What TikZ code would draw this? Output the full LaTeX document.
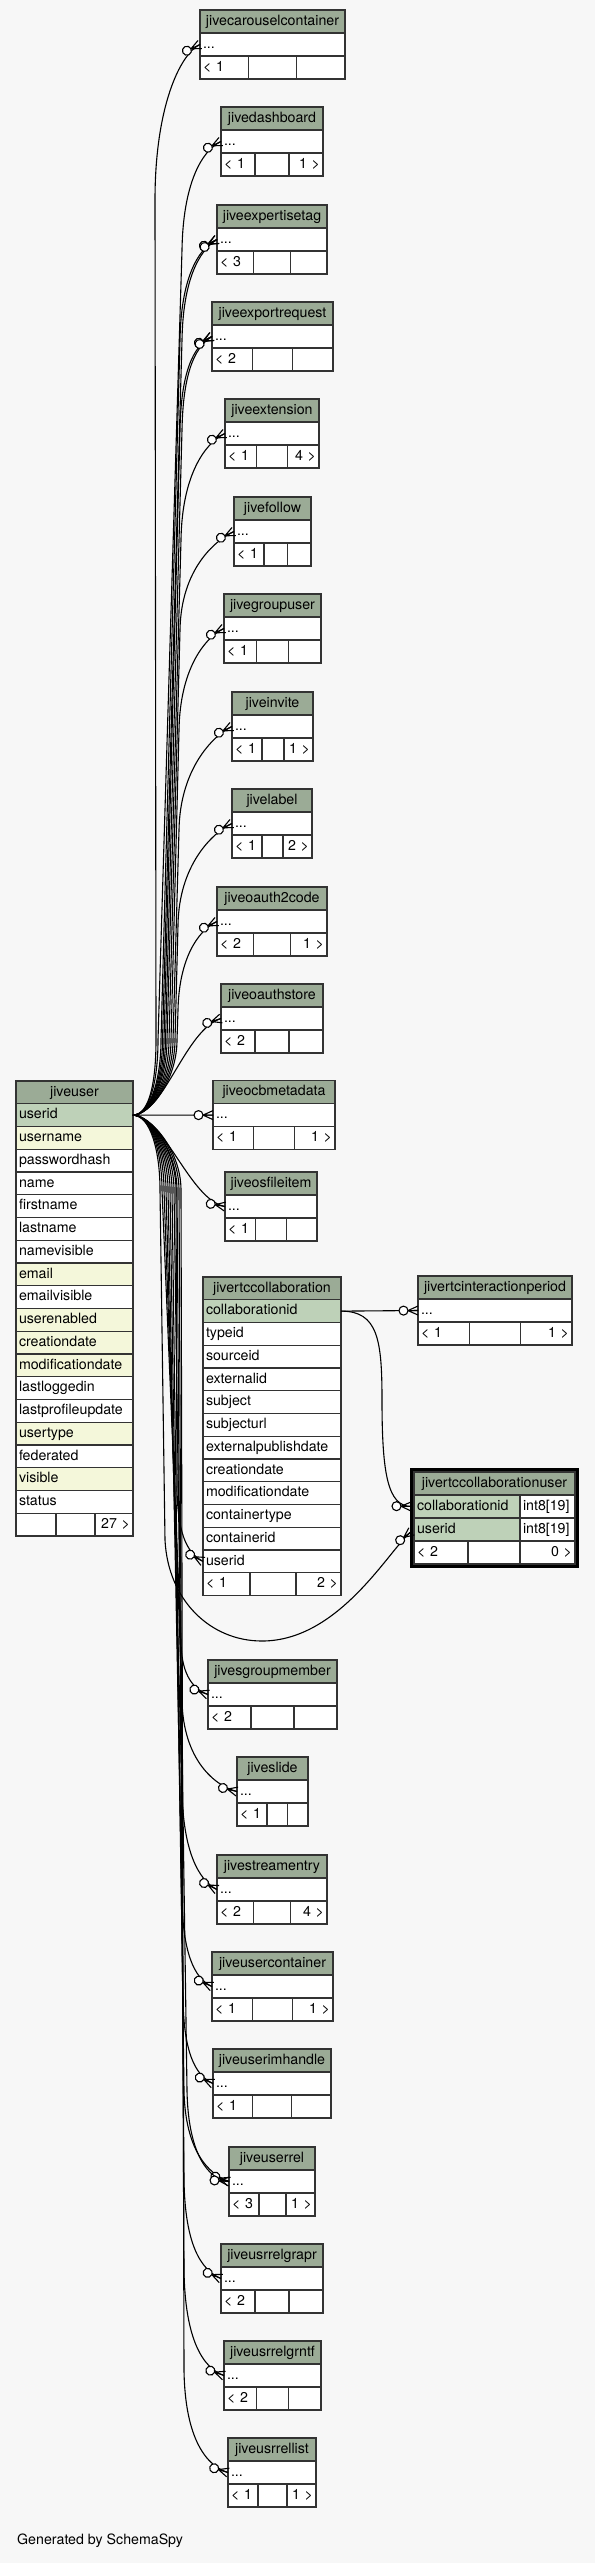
\documentclass[tikz,border=0pt]{standalone}
\usepackage{fontspec}
\setmainfont{TeX Gyre Heros}
\usepackage{xcolor}
\usetikzlibrary{positioning,arrows.meta}
\definecolor{fondo}{HTML}{F7F7F7}
\definecolor{cabeza}{HTML}{9BAB96}
\definecolor{clave}{HTML}{BED1B8}
\definecolor{indice}{HTML}{F4F7DA}
\definecolor{borde}{HTML}{333333}

% zero-or-many end: open circle + crow's foot
\pgfdeclarearrow{
  name = crowodot,
  setup code = {
    \pgfarrowssettipend{0pt}
    \pgfarrowssetlineend{0pt}
    \pgfarrowssetbackend{-19pt}
    \pgfarrowshullpoint{0pt}{5pt}
    \pgfarrowshullpoint{0pt}{-5pt}
    \pgfarrowshullpoint{-19pt}{0pt}
  },
  drawing code = {
    \pgfsetdash{}{0pt}
    \pgfpathmoveto{\pgfpoint{-10pt}{0pt}}
    \pgfpathlineto{\pgfpoint{0pt}{4.5pt}}
    \pgfpathmoveto{\pgfpoint{-10pt}{0pt}}
    \pgfpathlineto{\pgfpoint{0pt}{0pt}}
    \pgfpathmoveto{\pgfpoint{-10pt}{0pt}}
    \pgfpathlineto{\pgfpoint{0pt}{-4.5pt}}
    \pgfusepathqstroke
    \pgfpathcircle{\pgfpoint{-14.5pt}{0pt}}{4.5pt}
    \pgfsetfillcolor{white}
    \pgfusepathqfillstroke
  }
}

% table with one elided row: name, title, x, y, width, left foot, right foot
\newcommand{\smalltab}[7]{%
  \pgfmathsetmacro{\tabtw}{#5-6}%
  \pgfmathsetmacro{\fa}{max(#5/3,30)}%
  \def\righttxt{#7}%
  \ifx\righttxt\empty
    \pgfmathsetmacro{\fc}{(#5-\fa)/2}%
  \else
    \pgfmathsetmacro{\fc}{max((#5-\fa)/2,29)}%
  \fi
  \pgfmathsetmacro{\fb}{#5-\fa-\fc}%
  \pgfmathsetmacro{\fta}{\fa-6}%
  \pgfmathsetmacro{\ftb}{\fb-6}%
  \pgfmathsetmacro{\ftc}{\fc-6}%
  \node[hdr, minimum width=#5pt] (#1) at (#3,#4) {#2};
  \node[fld, colw={#5}{\tabtw}, below=0pt of #1] (#1-r) {...};
  \node[fld, colw={\fa}{\fta}] (#1-f1) at (#1-r.south west) {\mbox{#6}};
  \node[fld, colw={\fb}{\ftb}] (#1-f2) at (#1-f1.north east) {};
  \node[fld, num, colw={\fc}{\ftc}] (#1-f3) at (#1-f2.north east) {\mbox{#7}};
}

\begin{document}
\begin{tikzpicture}[
  x=1pt, y=-1pt,
  font=\fontsize{14.2}{17}\selectfont,
  cell/.style={draw=borde, line width=1.1pt, inner xsep=3pt, inner ysep=0pt, outer sep=0pt,
    minimum height=23pt, text height=10.5pt, text depth=3pt, anchor=north west},
  hdr/.style={cell, fill=cabeza, align=center},
  fld/.style={cell, fill=white, align=left},
  pk/.style={fill=clave},
  idx/.style={fill=indice},
  num/.style={align=right},
  big/.style={minimum height=22.75pt},
  colw/.style 2 args={minimum width=#1pt, text width=#2pt},
  rel/.style={-crowodot, line width=1.1pt, black}
]
  \fill[fondo] (0,0) rectangle (595,2563);
  \useasboundingbox (0,0) rectangle (595,2563);

  % jiveuser
  \node[hdr, big, minimum width=117pt] (ju) at (16,1081) {jiveuser};
  \node[fld, pk, big, colw={117}{111}, below=0pt of ju] (ju-uid) {userid};
  \node[fld, idx, big, colw={117}{111}, below=0pt of ju-uid] (ju-un) {username};
  \node[fld, big, colw={117}{111}, below=0pt of ju-un] (ju-ph) {passwordhash};
  \node[fld, big, colw={117}{111}, below=0pt of ju-ph] (ju-nm) {name};
  \node[fld, big, colw={117}{111}, below=0pt of ju-nm] (ju-fn) {firstname};
  \node[fld, big, colw={117}{111}, below=0pt of ju-fn] (ju-ln) {lastname};
  \node[fld, big, colw={117}{111}, below=0pt of ju-ln] (ju-nv) {namevisible};
  \node[fld, idx, big, colw={117}{111}, below=0pt of ju-nv] (ju-em) {email};
  \node[fld, big, colw={117}{111}, below=0pt of ju-em] (ju-ev) {emailvisible};
  \node[fld, idx, big, colw={117}{111}, below=0pt of ju-ev] (ju-ue) {userenabled};
  \node[fld, idx, big, colw={117}{111}, below=0pt of ju-ue] (ju-cd) {creationdate};
  \node[fld, idx, big, colw={117}{111}, below=0pt of ju-cd] (ju-md) {modificationdate};
  \node[fld, big, colw={117}{111}, below=0pt of ju-md] (ju-ll) {lastloggedin};
  \node[fld, big, colw={117}{111}, below=0pt of ju-ll] (ju-lp) {lastprofileupdate};
  \node[fld, idx, big, colw={117}{111}, below=0pt of ju-lp] (ju-ut) {usertype};
  \node[fld, big, colw={117}{111}, below=0pt of ju-ut] (ju-fd) {federated};
  \node[fld, idx, big, colw={117}{111}, below=0pt of ju-fd] (ju-vi) {visible};
  \node[fld, big, colw={117}{111}, below=0pt of ju-vi] (ju-st) {status};
  \node[fld, big, colw={40}{34}] (ju-f1) at (ju-st.south west) {};
  \node[fld, big, colw={39}{33}] (ju-f2) at (ju-f1.north east) {};
  \node[fld, num, big, colw={38}{32}] (ju-f3) at (ju-f2.north east) {27 >};

  % jivertccollaboration
  \node[hdr, big, minimum width=138pt] (rtc) at (203,1277) {jivertccollaboration};
  \node[fld, pk, big, colw={138}{132}, below=0pt of rtc] (rtc-cid) {collaborationid};
  \node[fld, big, colw={138}{132}, below=0pt of rtc-cid] (rtc-ty) {typeid};
  \node[fld, big, colw={138}{132}, below=0pt of rtc-ty] (rtc-so) {sourceid};
  \node[fld, big, colw={138}{132}, below=0pt of rtc-so] (rtc-ex) {externalid};
  \node[fld, big, colw={138}{132}, below=0pt of rtc-ex] (rtc-sj) {subject};
  \node[fld, big, colw={138}{132}, below=0pt of rtc-sj] (rtc-su) {subjecturl};
  \node[fld, big, colw={138}{132}, below=0pt of rtc-su] (rtc-ep) {externalpublishdate};
  \node[fld, big, colw={138}{132}, below=0pt of rtc-ep] (rtc-cd) {creationdate};
  \node[fld, big, colw={138}{132}, below=0pt of rtc-cd] (rtc-md) {modificationdate};
  \node[fld, big, colw={138}{132}, below=0pt of rtc-md] (rtc-ct) {containertype};
  \node[fld, big, colw={138}{132}, below=0pt of rtc-ct] (rtc-ci) {containerid};
  \node[fld, big, colw={138}{132}, below=0pt of rtc-ci] (rtc-uid) {userid};
  \node[fld, big, colw={47}{41}] (rtc-f1) at (rtc-uid.south west) {< 1};
  \node[fld, big, colw={46}{40}] (rtc-f2) at (rtc-f1.north east) {};
  \node[fld, num, big, colw={45}{39}] (rtc-f3) at (rtc-f2.north east) {2 >};

  % jivertccollaborationuser
  \draw[line width=2.2pt, black] (411.5,1469.5) rectangle (577.5,1566.5);
  \node[hdr, minimum width=161pt] (rcu) at (414,1472) {jivertccollaborationuser};
  \node[fld, pk, colw={106}{100}] (rcu-cid) at (rcu.south west) {collaborationid};
  \node[fld, colw={55}{49}] (rcu-cidt) at (rcu-cid.north east) {int8[19]};
  \node[fld, pk, colw={106}{100}] (rcu-uid) at (rcu-cid.south west) {userid};
  \node[fld, colw={55}{49}] (rcu-uidt) at (rcu-uid.north east) {int8[19]};
  \node[fld, colw={54}{48}] (rcu-f1) at (rcu-uid.south west) {< 2};
  \node[fld, colw={52}{46}] (rcu-f2) at (rcu-f1.north east) {};
  \node[fld, num, colw={55}{49}] (rcu-f3) at (rcu-f2.north east) {0 >};

  \smalltab{car}{jivecarouselcontainer}{200}{10}{145}{< 1}{}
  \smalltab{dash}{jivedashboard}{221}{107}{102}{< 1}{1 >}
  \smalltab{exp}{jiveexpertisetag}{217}{205}{110}{< 3}{}
  \smalltab{expr}{jiveexportrequest}{212}{302}{121}{< 2}{}
  \smalltab{ext}{jiveextension}{225}{399}{94}{< 1}{4 >}
  \smalltab{fol}{jivefollow}{234}{497}{77}{< 1}{}
  \smalltab{grp}{jivegroupuser}{224}{594}{97}{< 1}{}
  \smalltab{inv}{jiveinvite}{232}{692}{81}{< 1}{1 >}
  \smalltab{lab}{jivelabel}{232}{789}{80}{< 1}{2 >}
  \smalltab{oa2}{jiveoauth2code}{217}{887}{110}{< 2}{1 >}
  \smalltab{oas}{jiveoauthstore}{221}{984}{102}{< 2}{}
  \smalltab{ocb}{jiveocbmetadata}{213}{1080.6}{122}{< 1}{1 >}
  \smalltab{osf}{jiveosfileitem}{225}{1172}{92}{< 1}{}
  \smalltab{rip}{jivertcinteractionperiod}{418}{1276}{154}{< 1}{1 >}
  \smalltab{sgm}{jivesgroupmember}{208}{1660}{129}{< 2}{}
  \smalltab{sli}{jiveslide}{237}{1757}{71}{< 1}{}
  \smalltab{str}{jivestreamentry}{217}{1855}{110}{< 2}{4 >}
  \smalltab{ucn}{jiveusercontainer}{212}{1952}{121}{< 1}{1 >}
  \smalltab{uim}{jiveuserimhandle}{213}{2049}{118}{< 1}{}
  \smalltab{urel}{jiveuserrel}{229}{2147}{86}{< 3}{1 >}
  \smalltab{ugp}{jiveusrrelgrapr}{221}{2244}{102}{< 2}{}
  \smalltab{ugn}{jiveusrrelgrntf}{224}{2341}{97}{< 2}{}
  \smalltab{ull}{jiveusrrellist}{228}{2438}{88}{< 1}{1 >}

  % jiveuser.userid upwards
  \draw[rel] (ju-uid.east) .. controls (150,1115) and (156,1080) .. (156,1040) -- (155,200) .. controls (155,107) and (180,54) .. (car-r.west);
  \draw[rel] (ju-uid.east) .. controls (150,1115) and (158,1080) .. (158,1040) -- (182,250) .. controls (183,185) and (201,151) .. (dash-r.west);
  \draw[rel] (ju-uid.east) .. controls (150,1115) and (161,1080) .. (161,1040) -- (180,340) .. controls (181,280) and (197,249) .. (exp-r.west);
  \draw[rel] (ju-uid.east) .. controls (150,1115) and (162.5,1080) .. (162.5,1040) -- (182,340) .. controls (183,282) and (198,251) .. (exp-r.west);
  \draw[rel] (ju-uid.east) .. controls (150,1115) and (164,1080) .. (164,1040) -- (180,430) .. controls (181,375) and (192,346) .. (expr-r.west);
  \draw[rel] (ju-uid.east) .. controls (150,1115) and (165.5,1080) .. (165.5,1040) -- (182,430) .. controls (183,377) and (193,348) .. (expr-r.west);
  \draw[rel] (ju-uid.east) .. controls (150,1115) and (167,1080) .. (167,1040) -- (181,540) .. controls (182,475) and (205,443) .. (ext-r.west);
  \draw[rel] (ju-uid.east) .. controls (150,1115) and (169,1080) .. (169,1040) -- (180,630) .. controls (181,570) and (214,541) .. (fol-r.west);
  \draw[rel] (ju-uid.east) .. controls (150,1115) and (171,1080) .. (171,1040) -- (179,730) .. controls (180,670) and (204,638) .. (grp-r.west);
  \draw[rel] (ju-uid.east) .. controls (150,1115) and (173,1080) .. (173,1040) -- (179,830) .. controls (180,770) and (212,736) .. (inv-r.west);
  \draw[rel] (ju-uid.east) .. controls (150,1115) and (175,1080) .. (175,1040) -- (178,925) .. controls (179,865) and (212,833) .. (lab-r.west);
  \draw[rel] (ju-uid.east) .. controls (150,1115) and (177,1080) .. (177,1040) -- (178,1010) .. controls (179,960) and (197,931) .. (oa2-r.west);
  \draw[rel] (ju-uid.east) .. controls (165,1113) and (185,1030) .. (oas-r.west);
  \draw[rel] (ju-uid.east) -- (ocb-r.west);
  \draw[rel] (ju-uid.east) .. controls (165,1117) and (190,1200) .. (osf-r.west);

  % jiveuser.userid downwards
  \draw[rel] (ju-uid.east) .. controls (150,1115) and (176,1150) .. (176,1190) -- (177,1490) .. controls (178,1530) and (185,1552) .. (rtc-uid.west);
  \draw[rel, shorten >=3pt] (ju-uid.east) .. controls (150,1115) and (160,1150) .. (160,1190) -- (165,1540) .. controls (168,1600) and (210,1641) .. (262,1641) .. controls (340,1641) and (390,1548) .. (rcu-uid.west);
  \draw[rel] (ju-uid.east) .. controls (150,1115) and (162,1150) .. (162,1190) -- (181,1640) .. controls (181,1670) and (190,1688) .. (sgm-r.west);
  \draw[rel] (ju-uid.east) .. controls (150,1115) and (164,1150) .. (164,1190) -- (182,1700) .. controls (183,1760) and (215,1786) .. (sli-r.west);
  \draw[rel] (ju-uid.east) .. controls (150,1115) and (166,1150) .. (166,1190) -- (182,1790) .. controls (183,1850) and (198,1880) .. (str-r.west);
  \draw[rel] (ju-uid.east) .. controls (150,1115) and (168,1150) .. (168,1190) -- (182,1900) .. controls (183,1950) and (193,1978) .. (ucn-r.west);
  \draw[rel] (ju-uid.east) .. controls (150,1115) and (170,1150) .. (170,1190) -- (183,2000) .. controls (184,2050) and (194,2075) .. (uim-r.west);
  \draw[rel] (ju-uid.east) .. controls (150,1115) and (172,1150) .. (172,1190) -- (184,2090) .. controls (185,2150) and (208,2174) .. (urel-r.west);
  \draw[rel] (ju-uid.east) .. controls (150,1115) and (174,1150) .. (174,1190) -- (187,2090) .. controls (188,2155) and (209,2180) .. (urel-r.west);
  \draw[rel] (ju-uid.east) .. controls (150,1115) and (177,1150) .. (177,1190) -- (184,2180) .. controls (185,2245) and (201,2270) .. (ugp-r.west);
  \draw[rel] (ju-uid.east) .. controls (150,1115) and (179,1150) .. (179,1190) -- (184,2270) .. controls (185,2340) and (203,2368) .. (ugn-r.west);
  \draw[rel] (ju-uid.east) .. controls (150,1115) and (181,1150) .. (181,1190) -- (184,2370) .. controls (185,2440) and (207,2466) .. (ull-r.west);

  % collaborationid
  \draw[rel] (rtc-cid.east) -- (rip-r.west);
  \draw[rel, shorten >=3pt] (rtc-cid.east) .. controls (378,1311) and (382,1340) .. (382,1400) .. controls (382,1475) and (388,1506) .. (rcu-cid.west);

  \node[anchor=west, inner sep=0pt] (gen) at (17,2541) {Generated by SchemaSpy};
\end{tikzpicture}
\end{document}
